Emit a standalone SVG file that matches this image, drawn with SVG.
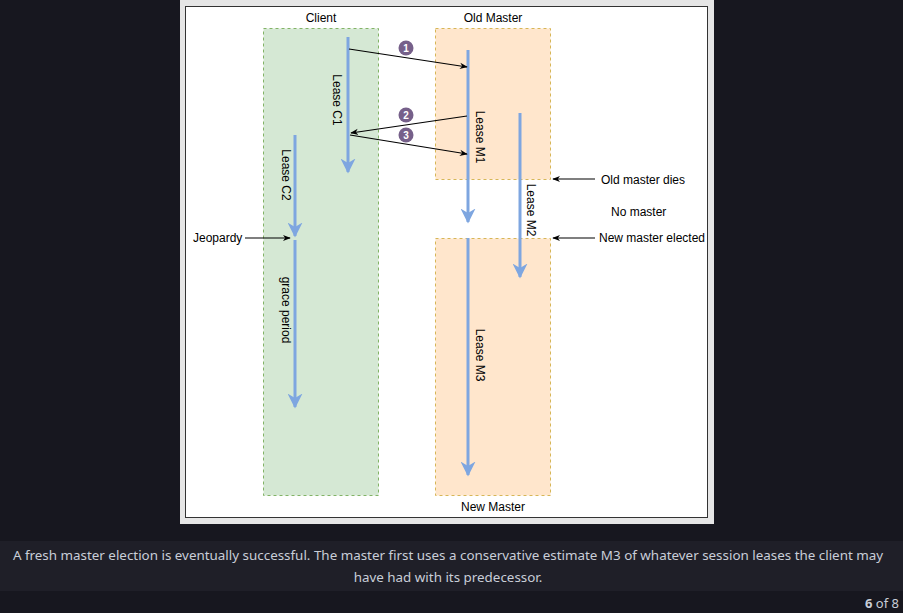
<svg xmlns="http://www.w3.org/2000/svg" width="903" height="613" viewBox="0 0 903 613">
<style>
.t{font-family:"Liberation Sans",Arial,sans-serif;font-size:12px;fill:#000}
.lane{stroke-width:1;stroke-dasharray:3 3}
.blue{stroke:#7ea6e0;stroke-width:3;fill:none}
.blk{stroke:#000;stroke-width:1.2;fill:none}
.num{fill:#76608a}
.nt{font-family:"Liberation Sans",Arial,sans-serif;font-size:10px;font-weight:bold;fill:#fff;text-anchor:middle}
.cap{font-family:"Noto Sans","Open Sans",sans-serif;font-size:13.4px;fill:#c9ced8;text-anchor:middle}
</style>
<defs>
<marker id="ba" viewBox="0 0 10 10" refX="9" refY="5" markerWidth="5" markerHeight="5" orient="auto" markerUnits="strokeWidth"><path d="M0,0 L10,5 L0,10 L3,5 Z" fill="#7ea6e0"/></marker>
<marker id="ka" viewBox="0 0 10 10" refX="9" refY="5" markerWidth="8" markerHeight="8" orient="auto" markerUnits="userSpaceOnUse"><path d="M0,1 L10,5 L0,9 L3,5 Z" fill="#000"/></marker>
</defs>
<rect width="903" height="613" fill="#17171f"/>
<rect x="0" y="541" width="903" height="50" fill="#1f1f28"/>
<rect x="180" y="0" width="534" height="524" fill="#e6e6e6"/>
<rect x="185.5" y="6.5" width="522" height="511" fill="#fff" stroke="#333" stroke-width="1"/>

<g id="client-lane">
<rect class="lane" x="263.5" y="28.5" width="115" height="467" fill="#d5e8d4" stroke="#82b366"/>
<text class="t" x="321" y="22" text-anchor="middle">Client</text>
</g>
<g id="old-master-lane">
<rect class="lane" x="435.5" y="28.5" width="115" height="151" fill="#ffe6cc" stroke="#d6b656"/>
<text class="t" x="493" y="22" text-anchor="middle">Old Master</text>
</g>
<g id="new-master-lane">
<rect class="lane" x="435.5" y="238.5" width="115" height="257" fill="#ffe6cc" stroke="#d6b656"/>
<text class="t" x="493" y="511" text-anchor="middle">New Master</text>
</g>

<g id="leases">
<line class="blue" x1="348" y1="37" x2="348" y2="172" marker-end="url(#ba)"/>
<text class="t" transform="translate(333,100) rotate(90)" text-anchor="middle">Lease C1</text>
<line class="blue" x1="468" y1="50" x2="468" y2="222" marker-end="url(#ba)"/>
<text class="t" transform="translate(476,137) rotate(90)" text-anchor="middle">Lease M1</text>
<line class="blue" x1="520" y1="113" x2="520" y2="277" marker-end="url(#ba)"/>
<text class="t" transform="translate(527,210) rotate(90)" text-anchor="middle">Lease M2</text>
<line class="blue" x1="468" y1="238" x2="468" y2="475" marker-end="url(#ba)"/>
<text class="t" transform="translate(476,355) rotate(90)" text-anchor="middle">Lease M3</text>
<line class="blue" x1="295" y1="135" x2="295" y2="236" marker-end="url(#ba)"/>
<text class="t" transform="translate(282,175) rotate(90)" text-anchor="middle">Lease C2</text>
<line class="blue" x1="295" y1="240" x2="295" y2="407" marker-end="url(#ba)"/>
<text class="t" transform="translate(282,310) rotate(90)" text-anchor="middle">grace period</text>
</g>

<g id="connectors">
<line class="blk" x1="349" y1="49" x2="467" y2="67" marker-end="url(#ka)"/>
<line class="blk" x1="467" y1="116" x2="351" y2="133" marker-end="url(#ka)"/>
<line class="blk" x1="350" y1="135" x2="467" y2="154" marker-end="url(#ka)"/>
<line class="blk" x1="595" y1="179" x2="553" y2="179" marker-end="url(#ka)"/>
<line class="blk" x1="595" y1="238" x2="553" y2="238" marker-end="url(#ka)"/>
<line class="blk" x1="245" y1="238" x2="290" y2="238" marker-end="url(#ka)"/>
</g>

<g id="step-1"><circle class="num" cx="406" cy="48" r="7.5"/><text class="nt" x="406" y="51.5">1</text></g>
<g id="step-2"><circle class="num" cx="406" cy="115" r="7.5"/><text class="nt" x="406" y="118.5">2</text></g>
<g id="step-3"><circle class="num" cx="406" cy="135" r="7.5"/><text class="nt" x="406" y="138.5">3</text></g>

<g id="annotations">
<text class="t" x="601" y="184">Old master dies</text>
<text class="t" x="611" y="216">No master</text>
<text class="t" x="599" y="242">New master elected</text>
<text class="t" x="193" y="242">Jeopardy</text>
</g>

<g id="caption">
<text class="cap" x="448" y="560">A fresh master election is eventually successful. The master first uses a conservative estimate M3 of whatever session leases the client may</text>
<text class="cap" x="448" y="582">have had with its predecessor.</text>
<text x="899" y="608" text-anchor="end" font-family="Noto Sans,Open Sans,sans-serif" font-size="13" fill="#c9ced8"><tspan font-weight="bold">6</tspan> of 8</text>
</g>
</svg>
